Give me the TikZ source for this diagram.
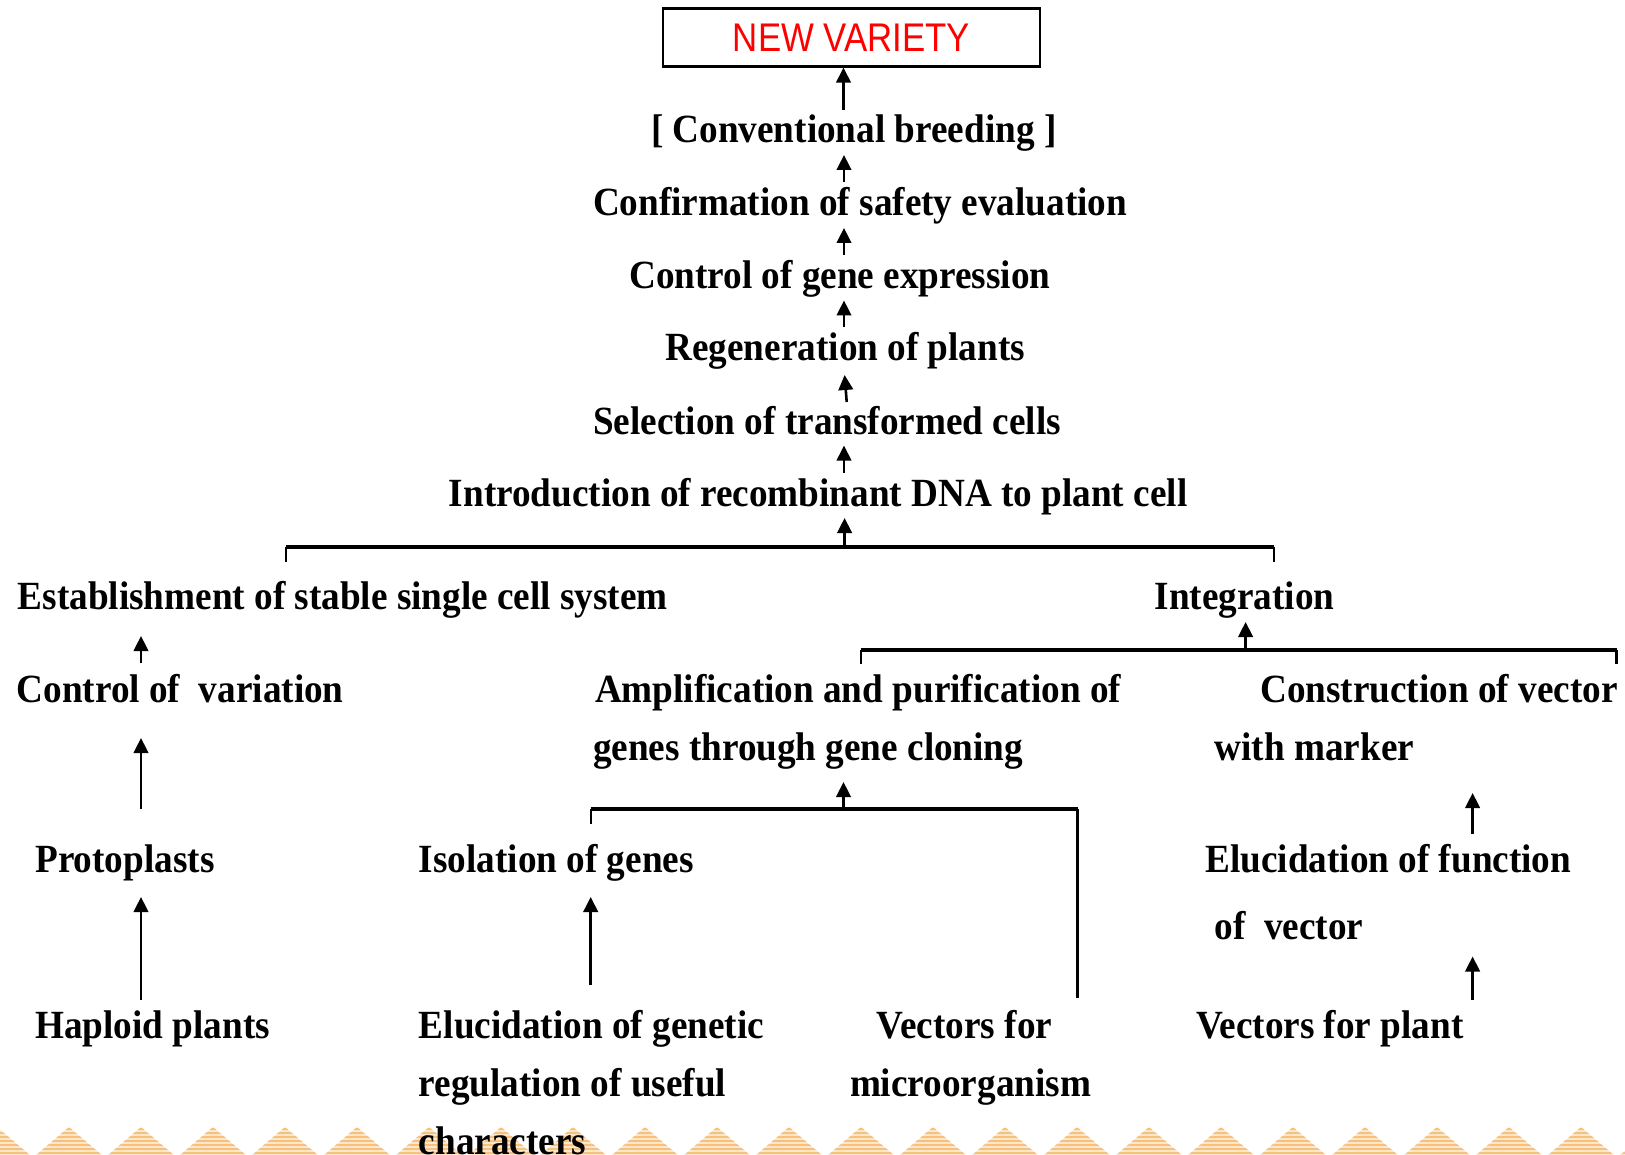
\documentclass[tikz,border=0pt]{standalone}
\usepackage{fontspec}
\usetikzlibrary{arrows.meta}
\newfontfamily\lblfont[FakeStretch=0.93]{Liberation Serif}
\newfontfamily\hdrfont[FakeStretch=0.87]{Liberation Sans}
\definecolor{stripeA}{HTML}{F9C07A}
\definecolor{stripeB}{HTML}{FDE7CC}
\definecolor{newred}{HTML}{FF0000}

\begin{document}
\begin{tikzpicture}[x=1pt,y=-1pt,
  lbl/.style={font=\lblfont\bfseries\fontsize{40}{48}\selectfont, inner sep=0pt, anchor=base west},
  up/.style={-{Triangle[length=15pt,width=14.5pt]}, line width=2.6pt},
  brk/.style={line width=3.2pt},
  tick/.style={line width=2.2pt}]
\useasboundingbox (0,0) rectangle (1625,1155);

% striped border of small triangles along the bottom edge
\foreach \k in {-1,...,22}{
  \pgfmathsetmacro\cx{69+72*\k}
  \begin{scope}
    \clip ({\cx-34},1156) -- (\cx,1127) -- ({\cx+34},1156) -- cycle;
    \fill[stripeB] ({\cx-34},1125) rectangle ({\cx+34},1158);
    \foreach \yy in {1129,1133,...,1157}
      \draw[stripeA, line width=2pt] ({\cx-34},\yy) -- ({\cx+34},\yy);
  \end{scope}
}

% final product
\node[draw, line width=2.2pt, minimum width=377pt, minimum height=58pt, inner sep=0pt,
      font=\hdrfont\fontsize{40}{48}\selectfont, text=newred] (nv) at (851.5,37.5) {NEW VARIETY};

% main vertical chain
\node[lbl] (conv)  at (650.8,143) {[ Conventional breeding ]};
\node[lbl] (conf)  at (592.8,216) {Confirmation of safety evaluation};
\node[lbl] (expr)  at (629,289)   {Control of gene expression};
\node[lbl] (regen) at (665.3,361) {Regeneration of plants};
\node[lbl] (sel)   at (592.8,434) {Selection of transformed cells};
\node[lbl] (intro) at (448.7,506) {Introduction of recombinant DNA to plant cell};

% second level
\node[lbl] (estab) at (17.6,609)  {Establishment of stable single cell system};
\node[lbl] (integ) at (1154.4,609) {Integration};

% left branch
\node[lbl] (ctrlv) at (16.6,702) {Control of\ \ variation};
\node[lbl] (proto) at (35.2,872) {Protoplasts};
\node[lbl] (hapl)  at (35.2,1038) {Haploid plants};

% middle branch
\node[lbl] (ampl1) at (594.8,702) {Amplification and purification of};
\node[lbl] (ampl2) at (592.8,760) {genes through gene cloning};
\node[lbl] (isol)  at (418.7,872) {Isolation of genes};
\node[lbl] (eluc1) at (418.7,1038) {Elucidation of genetic};
\node[lbl] (eluc2) at (418.7,1096) {regulation of useful};
\node[lbl] (eluc3) at (418.7,1154) {characters};
\node[lbl] (vmic1) at (876.7,1038) {Vectors for};
\node[lbl] (vmic2) at (849.8,1096) {microorganism};

% right branch
\node[lbl] (cons1) at (1260,702)   {Construction of vector};
\node[lbl] (cons2) at (1214.5,760) {with marker};
\node[lbl] (func1) at (1205.2,872) {Elucidation of function};
\node[lbl] (func2) at (1214.5,939.5) {of\ \ vector};
\node[lbl] (vpl)   at (1196,1038)  {Vectors for plant};

% arrow end points
\coordinate (a1t) at (843.5,110);
\coordinate (a2t) at (844,182);   \coordinate (a2h) at (844,155);
\coordinate (a3t) at (844,255);   \coordinate (a3h) at (844,228);
\coordinate (a4t) at (844,327.5); \coordinate (a4h) at (844,300.5);
\coordinate (a5t) at (846.7,402); \coordinate (a5h) at (844.6,375);
\coordinate (a6t) at (844,472.5); \coordinate (a6h) at (844,445.6);
\coordinate (a7t) at (844.6,547); \coordinate (a7h) at (844.6,518);
\coordinate (a8t) at (1245.6,650); \coordinate (a8h) at (1245.6,622);
\coordinate (a9t) at (141,663);   \coordinate (a9h) at (141,636);
\coordinate (a10t) at (141,809);  \coordinate (a10h) at (141,738);
\coordinate (a11t) at (141,1000); \coordinate (a11h) at (141,897);
\coordinate (a12t) at (843.5,809); \coordinate (a12h) at (843.5,782);
\coordinate (a13t) at (590.7,984.5); \coordinate (a13h) at (590.7,897);
\coordinate (a14t) at (1472.6,834); \coordinate (a14h) at (1472.6,793);
\coordinate (a15t) at (1472.6,1000); \coordinate (a15h) at (1472.6,956.5);

\draw[up] (a1t) -- (a1t |- nv.south);
\draw[up] (a2t) -- (a2h);
\draw[up] (a3t) -- (a3h);
\draw[up] (a4t) -- (a4h);
\draw[up] (a5t) -- (a5h);
\draw[up] (a6t) -- (a6h);
\draw[up] (a7t) -- (a7h);
\draw[up] (a8t) -- (a8h);
\draw[up] (a9t) -- (a9h);
\draw[up] (a10t) -- (a10h);
\draw[up] (a11t) -- (a11h);
\draw[up] (a12t) -- (a12h);
\draw[up] (a13t) -- (a13h);
\draw[up] (a14t) -- (a14h);
\draw[up] (a15t) -- (a15h);

% joining brackets
\coordinate (b1l) at (286,547);    \coordinate (b1r) at (1273.6,547);
\coordinate (b2l) at (861,650);    \coordinate (b2r) at (1616.6,650);
\coordinate (b3l) at (590.7,809);  \coordinate (b3r) at (1077.8,809);

\draw[brk] (b1l) -- (b1r);
\draw[tick] (b1l) -- ++(0,15);
\draw[tick] (b1r) -- ++(0,15);

\draw[brk] (b2l) -- (b2r);
\draw[tick] (b2l) -- ++(0,14);
\draw[brk] (b2r) -- ++(0,14);

\draw[brk] (b3l) -- (b3r);
\draw[tick] (b3l) -- ++(0,15);
\draw[brk] (b3r) -- ++(0,189);
\end{tikzpicture}
\end{document}
